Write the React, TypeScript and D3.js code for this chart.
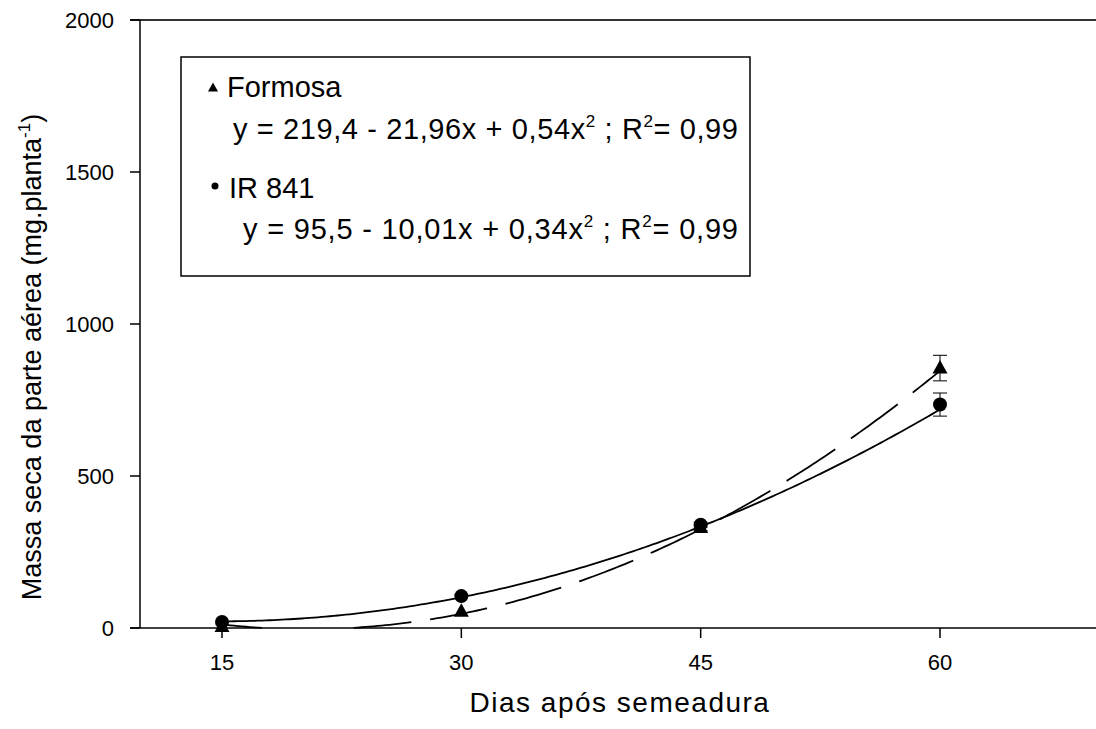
import * as d3 from "d3";

const days = [15, 30, 45, 60];
const formosa = [5, 55, 330, 855];
const formosaErr = [0, 0, 10, 42];
const ir841 = [20, 105, 340, 735];
const ir841Err = [0, 0, 8, 38];
// regression coefficients from the legend: a + b*x + c*x^2
const formosaFit = [219.4, -21.96, 0.54];
const ir841Fit = [95.5, -10.01, 0.34];
const yTicks = [0, 500, 1000, 1500, 2000];

const width = 1096;
const height = 729;
const left = 140;
const top = 20;
const bottom = 628;

const xScale = d3.scaleLinear().domain([15, 60]).range([222, 940]);
const yScale = d3.scaleLinear().domain([0, 2000]).range([bottom, top]);

function fitLine(coef: number[]) {
  const xs = d3.range(15, 60.01, 0.25);
  const pts = xs.map((x) => [x, coef[0] + coef[1] * x + coef[2] * x * x]);
  return d3
    .line<number[]>()
    .defined((d) => d[1] >= 0)
    .x((d) => xScale(d[0]))
    .y((d) => yScale(d[1]))(pts) as string;
}

const font = "Arial, 'Liberation Sans', sans-serif";

function Triangle({ x, y, s }: { x: number; y: number; s: number }) {
  const h = s * 0.9;
  return (
    <path
      d={`M${x},${y - h * 0.6} L${x + s / 2},${y + h * 0.4} L${x - s / 2},${y + h * 0.4} Z`}
      fill="black"
    />
  );
}

function ErrBar({ x, v, e }: { x: number; v: number; e: number }) {
  if (!e) return null;
  const cx = xScale(x);
  const y1 = yScale(v + e);
  const y2 = yScale(v - e);
  return (
    <g stroke="black" strokeWidth={1}>
      <line x1={cx} x2={cx} y1={y1} y2={y2} />
      <line x1={cx - 7} x2={cx + 7} y1={y1} y2={y1} />
      <line x1={cx - 7} x2={cx + 7} y1={y2} y2={y2} />
    </g>
  );
}

export default function App() {
  return (
    <svg
      width={width}
      height={height}
      style={{ position: "absolute", left: 0, top: 0, background: "white" }}
      fontFamily={font}
    >
      <rect width={width} height={height} fill="white" />
      {/* frame lines */}
      <line x1={130} x2={width} y1={top} y2={top} stroke="#333" strokeWidth={2} />
      <line x1={left} x2={left} y1={top} y2={bottom} stroke="black" strokeWidth={1.5} />
      <line x1={130} x2={width} y1={bottom} y2={bottom} stroke="black" strokeWidth={1.5} />

      {yTicks.map((t) => (
        <g key={t}>
          <line x1={130} x2={left} y1={yScale(t)} y2={yScale(t)} stroke="black" strokeWidth={1.5} />
          <text x={114} y={yScale(t) + 8} textAnchor="end" fontSize={22}>
            {t}
          </text>
        </g>
      ))}
      {days.map((d) => (
        <g key={d}>
          <line x1={xScale(d)} x2={xScale(d)} y1={bottom} y2={bottom + 10} stroke="black" strokeWidth={1.5} />
          <text x={xScale(d)} y={bottom + 42} textAnchor="middle" fontSize={22}>
            {d}
          </text>
        </g>
      ))}

      <text x={620} y={712} textAnchor="middle" fontSize={28} letterSpacing={1.5}>
        Dias após semeadura
      </text>
      <text
        transform={`translate(41,357) rotate(-90)`}
        textAnchor="middle"
        fontSize={27}
      >
        Massa seca da parte aérea (mg.planta
        <tspan fontSize={17} dy={-11}>-1</tspan>
        <tspan dy={11}>)</tspan>
      </text>

      {/* fitted curves */}
      <path d={fitLine(formosaFit)} fill="none" stroke="black" strokeWidth={1.8} strokeDasharray="58,19" />
      <path d={fitLine(ir841Fit)} fill="none" stroke="black" strokeWidth={1.8} />

      {days.map((d, i) => (
        <g key={"e" + d}>
          <ErrBar x={d} v={formosa[i]} e={formosaErr[i]} />
          <ErrBar x={d} v={ir841[i]} e={ir841Err[i]} />
        </g>
      ))}
      {days.map((d, i) => (
        <g key={"m" + d}>
          <Triangle x={xScale(d)} y={yScale(formosa[i])} s={15} />
          <circle cx={xScale(d)} cy={yScale(ir841[i])} r={7} fill="black" />
        </g>
      ))}

      {/* legend */}
      <rect x={181} y={57} width={569} height={219} fill="white" stroke="black" strokeWidth={1.5} />
      <Triangle x={213} y={88} s={10} />
      <text x={227} y={97} fontSize={29}>Formosa</text>
      <text x={233} y={139} fontSize={29} textLength={505} lengthAdjust="spacing">
        y = 219,4 - 21,96x + 0,54x<tspan fontSize={17} dy={-12}>2</tspan>
        <tspan dy={12}>{" ;  R"}</tspan>
        <tspan fontSize={17} dy={-12}>2</tspan>
        <tspan dy={12}>= 0,99</tspan>
      </text>
      <circle cx={215} cy={186} r={3.5} fill="black" />
      <text x={229} y={198} fontSize={29}>IR 841</text>
      <text x={243} y={239} fontSize={29} textLength={495} lengthAdjust="spacing">
        y = 95,5  - 10,01x + 0,34x<tspan fontSize={17} dy={-12}>2</tspan>
        <tspan dy={12}>{"  ; R"}</tspan>
        <tspan fontSize={17} dy={-12}>2</tspan>
        <tspan dy={12}>= 0,99</tspan>
      </text>
    </svg>
  );
}
